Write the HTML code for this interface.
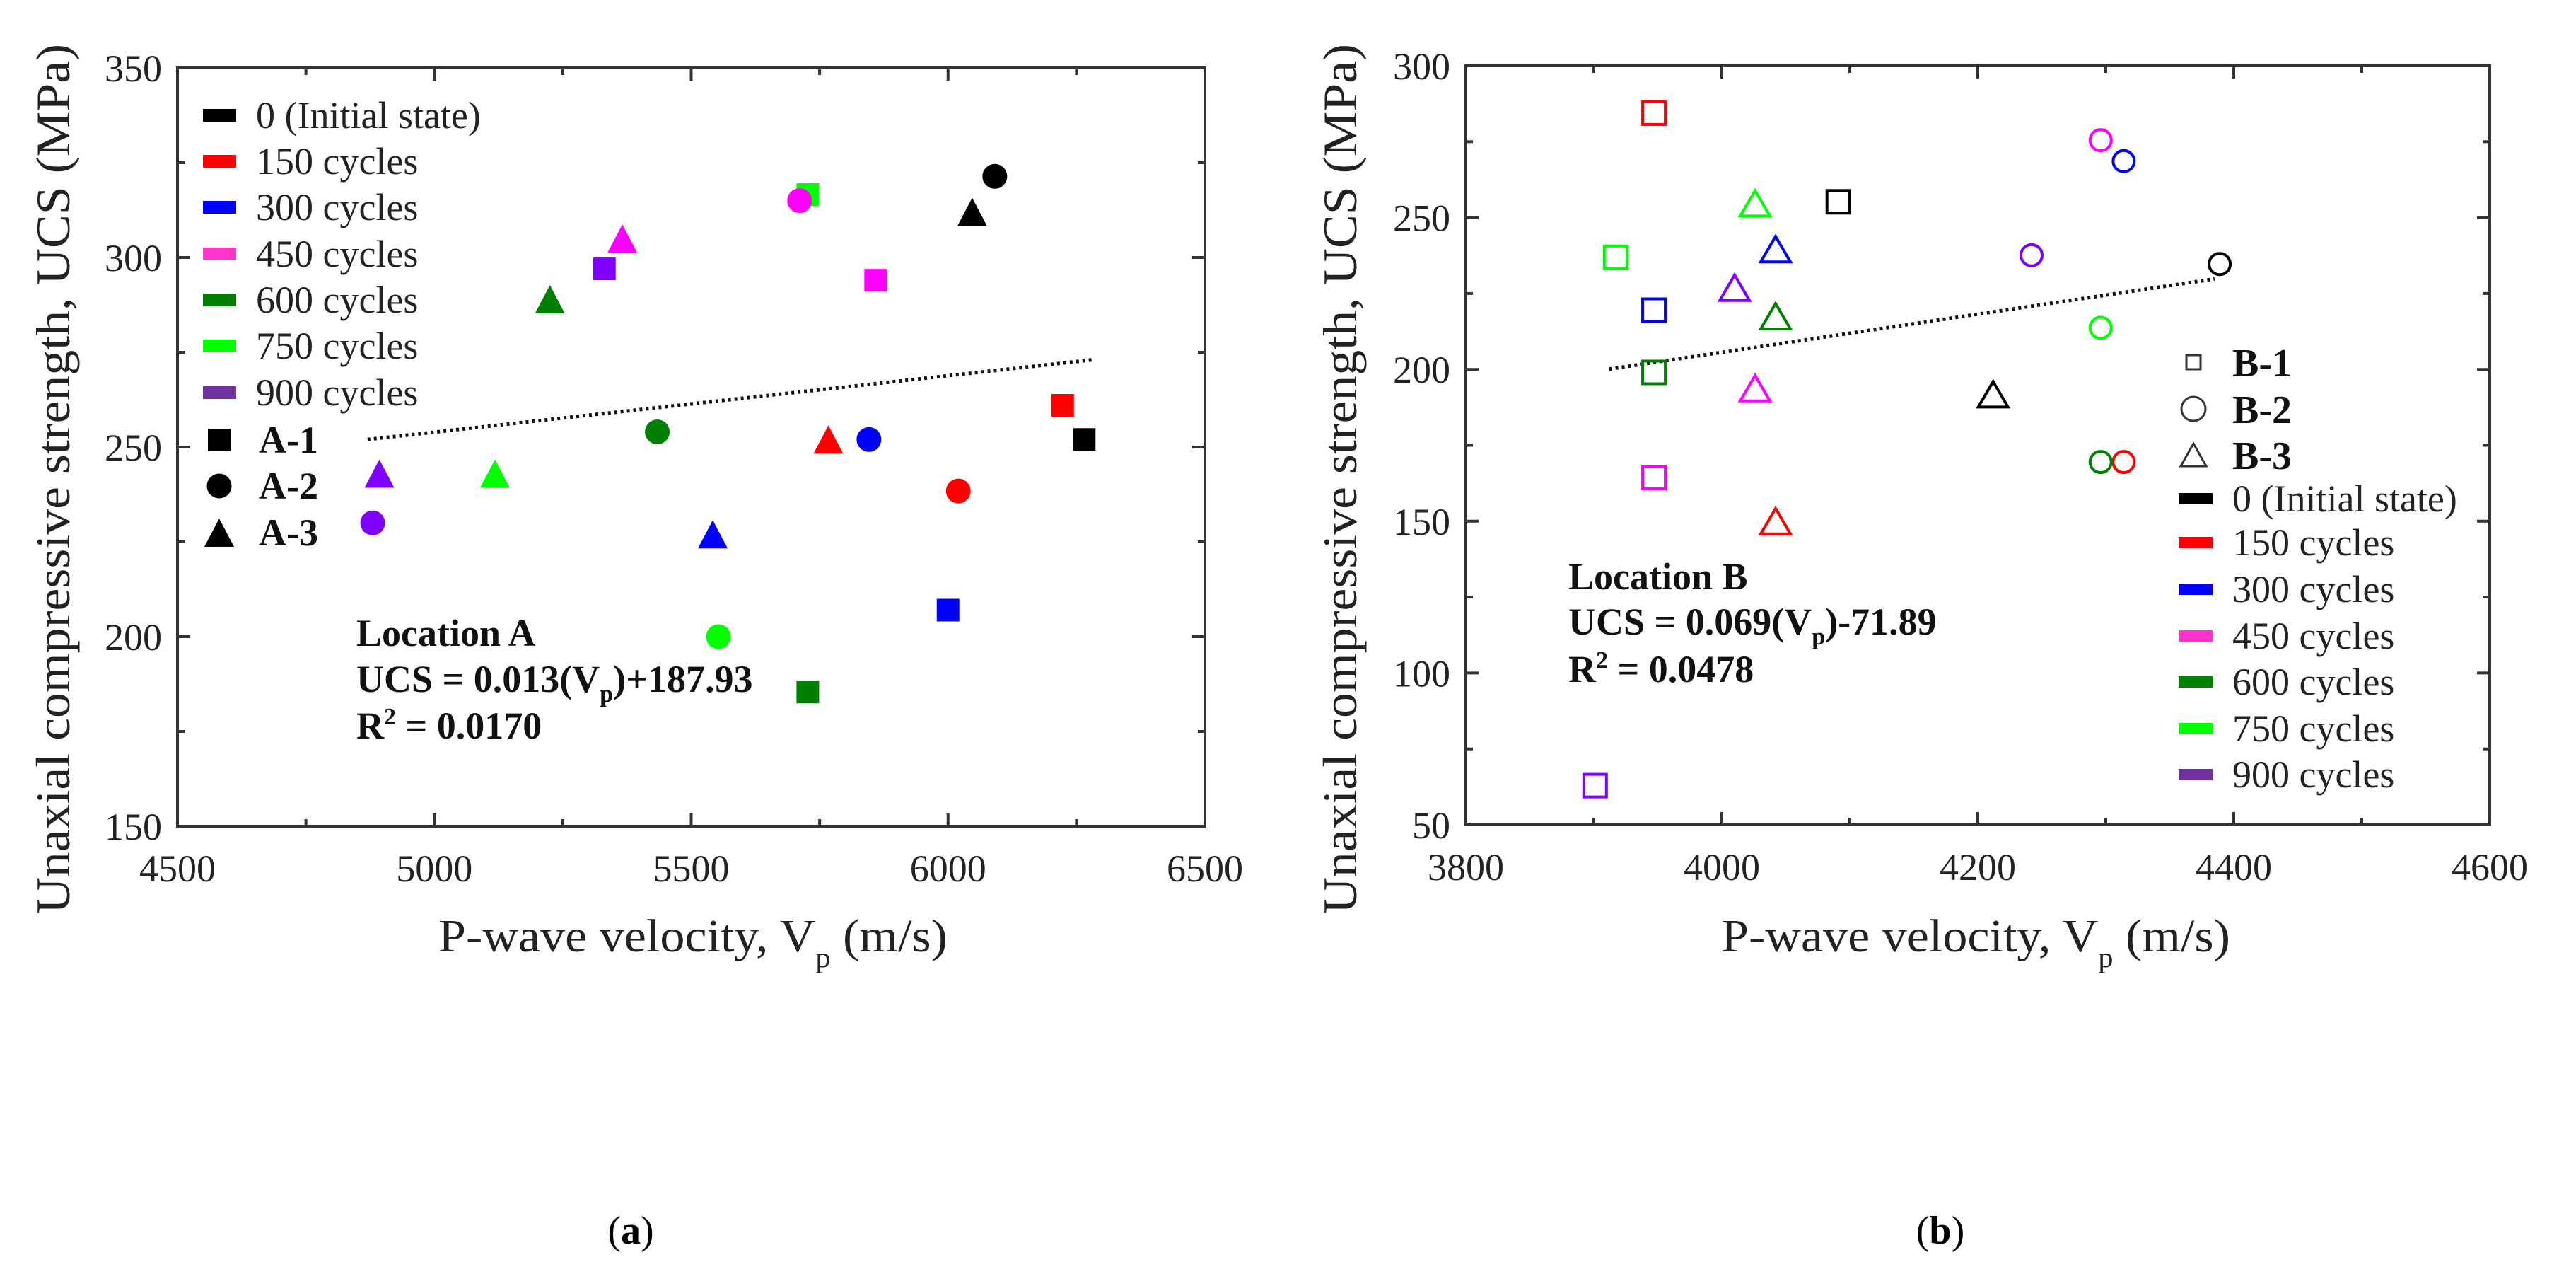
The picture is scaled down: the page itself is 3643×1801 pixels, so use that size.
<!DOCTYPE html>
<html><head><meta charset="utf-8"><style>
html,body{margin:0;padding:0;background:#fff;}
svg{display:block;font-family:"Liberation Serif",serif;}
</style></head><body>
<svg id="fig" width="3643" height="1801" viewBox="0 0 3643 1801" xmlns="http://www.w3.org/2000/svg">
<rect x="0" y="0" width="3643" height="1801" fill="#fff"/>
<g id="chartA"></g>
<g id="chartB"></g>
<text x="892" y="1758" font-size="56" text-anchor="middle">(<tspan font-weight="bold">a</tspan>)</text>
<text x="2744" y="1758" font-size="56" text-anchor="middle">(<tspan font-weight="bold">b</tspan>)</text>
</svg>
<script>
const groupColors = ["#000000","#ff0000","#0000ff","#ff00ff","#008000","#00ff00","#8000ff"];
const groupSwatch = ["#000000","#ff0000","#0000ff","#ff33cc","#008000","#00ff00","#7030a0"];
const groupLabels = ["0 (Initial state)","150 cycles","300 cycles","450 cycles","600 cycles","750 cycles","900 cycles"];
// Location A: [square A-1, circle A-2, triangle A-3] per group
const aVp1 = [6265,6223,6000,5859,5727,5727,5331];
const aUcs1 = [252,261,207,294,185.4,316.6,297];
const aVp2 = [6091,6020,5846,5711,5434,5553,4880];
const aUcs2 = [321.4,238.4,252,315,254,200,230];
const aVp3 = [6047,5767,5542,5366,5225,5118,4893];
const aUcs3 = [312,252,227,305,289,243,243];
const aTrendX = [4870,6280];
const aTrendY = [252,273];
const aXTicks = [4500,5000,5500,6000,6500];
const aYTicks = [150,200,250,300,350];
// Location B
const bVp1 = [4091,3947,3947,3947,3947,3917,3901];
const bUcs1 = [255.2,284.4,219.5,164.4,199,236.9,62.9];
const bVp2 = [4389,4314,4314,4296,4296,4296,4242];
const bUcs2 = [234.7,169.5,268.6,275.5,169.5,213.7,237.6];
const bVp3 = [4212,4042,4042,4026,4042,4026,4010];
const bUcs3 = [191.8,150,239.6,193.8,217.5,254.7,226.9];
const bTrendX = [3912,4385];
const bTrendY = [200.1,229.8];
const bXTicks = [3800,4000,4200,4400,4600];
const bYTicks = [50,100,150,200,250,300];

const NS="http://www.w3.org/2000/svg";
function mk(parent,tag,attrs,text){const e=document.createElementNS(NS,tag);for(const k in attrs)e.setAttribute(k,attrs[k]);if(text!==undefined)e.textContent=text;parent.appendChild(e);return e;}

function marker(g,shape,cx,cy,color,filled){
  let e;
  const f=filled?color:"none", sw=filled?0:4;
  if(shape===0){e=mk(g,"rect",{x:cx-16,y:cy-16,width:32,height:32,fill:f,stroke:color,"stroke-width":sw});}
  else if(shape===1){e=mk(g,"circle",{cx:cx,cy:cy,r:filled?17.5:15,fill:f,stroke:color,"stroke-width":sw});}
  else {const h=filled?20:18;e=mk(g,"polygon",{points:`${cx},${cy-h} ${cx+21},${cy+h} ${cx-21},${cy+h}`,fill:f,stroke:color,"stroke-width":sw});}
  return e;
}

function drawChart(g,cfg){
  const {L,R,T,B,x0,x1,y0,y1,xt,yt}=cfg;
  const sx=v=>L+(v-x0)/(x1-x0)*(R-L);
  const sy=v=>B-(v-y0)/(y1-y0)*(B-T);
  // ticks
  const tg=mk(g,"g",{stroke:"#333","stroke-width":4});
  
  
  for(let i=0;i<xt.length;i++){
    const x=sx(xt[i]);
    mk(tg,"line",{x1:x,y1:B,x2:x,y2:B-18});mk(tg,"line",{x1:x,y1:T,x2:x,y2:T+18});
    if(i<xt.length-1){const xm=sx((xt[i]+xt[i+1])/2);mk(tg,"line",{x1:xm,y1:B,x2:xm,y2:B-10});mk(tg,"line",{x1:xm,y1:T,x2:xm,y2:T+10});}
    const t=mk(g,"text",{x:x,y:B+78,"font-size":54,"text-anchor":"middle",fill:"#222"},String(xt[i]));
    
    
  }
  for(let i=0;i<yt.length;i++){
    const y=sy(yt[i]);
    mk(tg,"line",{x1:L,y1:y,x2:L+18,y2:y});mk(tg,"line",{x1:R,y1:y,x2:R-18,y2:y});
    if(i<yt.length-1){const ym=sy((yt[i]+yt[i+1])/2);mk(tg,"line",{x1:L,y1:ym,x2:L+10,y2:ym});mk(tg,"line",{x1:R,y1:ym,x2:R-10,y2:ym});}
    const t=mk(g,"text",{x:L-22,y:y+19,"font-size":54,"text-anchor":"end",fill:"#222"},String(yt[i]));
    
    
  }
  const fr=mk(g,"rect",{x:L,y:T,width:R-L,height:B-T,fill:"none",stroke:"#333","stroke-width":4});
  
  
  // trend
  const tl=mk(g,"line",{x1:sx(cfg.tx[0]),y1:sy(cfg.ty[0]),x2:sx(cfg.tx[1]),y2:sy(cfg.ty[1]),stroke:"#111","stroke-width":5,"stroke-dasharray":"4 5"});
  
  
  // points
  const sets=[[cfg.v1,cfg.u1],[cfg.v2,cfg.u2],[cfg.v3,cfg.u3]];
  for(let s=0;s<3;s++){
    for(let i=0;i<7;i++){
      const m=marker(g,s,sx(sets[s][0][i]),sy(sets[s][1][i]),groupColors[i],cfg.filled);
      
      
    }
  }
  // axis titles
  const xt1=mk(g,"text",{x:cfg.xtx,y:1345,"font-size":66,"text-anchor":"middle",fill:"#222",textLength:720,lengthAdjust:"spacingAndGlyphs"});
  
  
  xt1.innerHTML='P-wave velocity, V<tspan font-size="40" dy="22">p</tspan><tspan dy="-22"> (m/s)</tspan>';
  const yt1=mk(g,"text",{x:0,y:0,"font-size":68,"text-anchor":"middle",fill:"#222",textLength:1230,lengthAdjust:"spacingAndGlyphs",transform:`translate(${cfg.ytx},677) rotate(-90)`},"Unaxial compressive strength, UCS (MPa)");
  
  
}

const gA=document.getElementById("chartA");
drawChart(gA,{L:251,R:1704,T:96,B:1168,x0:4500,x1:6500,y0:150,y1:350,xt:aXTicks,yt:aYTicks,tx:aTrendX,ty:aTrendY,v1:aVp1,u1:aUcs1,v2:aVp2,u2:aUcs2,v3:aVp3,u3:aUcs3,filled:true,prefix:"a",xtx:980,ytx:98});
const gB=document.getElementById("chartB");
drawChart(gB,{L:2073,R:3521,T:93,B:1166,x0:3800,x1:4600,y0:50,y1:300,xt:bXTicks,yt:bYTicks,tx:bTrendX,ty:bTrendY,v1:bVp1,u1:bUcs1,v2:bVp2,u2:bUcs2,v3:bVp3,u3:bUcs3,filled:false,prefix:"b",xtx:2794,ytx:1918});

// Legend A
const legA=mk(gA,"g",{});


const aRows=[163,228,293,359,424,489,555];
for(let i=0;i<7;i++){
  const r=mk(legA,"rect",{x:287,y:aRows[i]-9,width:47,height:18,fill:groupSwatch[i]});
  
  
  const t=mk(legA,"text",{x:362,y:aRows[i]+18,"font-size":54,fill:"#222"},groupLabels[i]);
  
  
}
const aShapeRows=[622,687,753],aShapeLab=["A-1","A-2","A-3"];
for(let s=0;s<3;s++){
  const m=marker(legA,s,310,aShapeRows[s],"#000",true);
  
  
  const t=mk(legA,"text",{x:366,y:aShapeRows[s]+18,"font-size":54,"font-weight":"bold",fill:"#111"},aShapeLab[s]);
  
  
}
// Legend B
const legB=mk(gB,"g",{});


const bShapeRows=[512,578,643],bShapeLab=["B-1","B-2","B-3"];
for(let s=0;s<3;s++){
  const cy=bShapeRows[s];
  let m;
  if(s===0)m=mk(legB,"rect",{x:3092,y:cy-10,width:20,height:20,fill:"none",stroke:"#333","stroke-width":3});
  else if(s===1)m=mk(legB,"circle",{cx:3102,cy:cy,r:17,fill:"none",stroke:"#333","stroke-width":3});
  else m=mk(legB,"polygon",{points:`3102,${cy-16} 3120,${cy+16} 3084,${cy+16}`,fill:"none",stroke:"#333","stroke-width":3});
  
  
  const t=mk(legB,"text",{x:3157,y:cy+20,"font-size":56,"font-weight":"bold",fill:"#111"},bShapeLab[s]);
  
  
}
const bRows=[705,767,833,899,964,1030,1095];
for(let i=0;i<7;i++){
  const r=mk(legB,"rect",{x:3081,y:bRows[i]-8,width:48,height:16,fill:groupSwatch[i]});
  
  
  const t=mk(legB,"text",{x:3157,y:bRows[i]+18,"font-size":54,fill:"#222"},groupLabels[i]);
  
  
}
// Annotations
function annot(g,x,ys,name,eq){
  const a=mk(g,"g",{"font-size":54,"font-weight":"bold",fill:"#111"});
  
  
  mk(a,"text",{x:x,y:ys[0]+18},"Location "+name);
  const e=mk(a,"text",{x:x,y:ys[1]+18});
  e.innerHTML='UCS = '+eq[0]+'(V<tspan font-size="34" dy="14">p</tspan><tspan dy="-14">)'+eq[1]+'</tspan>';
  const r=mk(a,"text",{x:x,y:ys[2]+18});
  r.innerHTML='R<tspan font-size="34" dy="-20">2</tspan><tspan dy="20"> = '+eq[2]+'</tspan>';
}
annot(gA,504,[895,960,1026],"A",["0.013","+187.93","0.0170"]);
annot(gB,2218,[815,879,946],"B",["0.069","-71.89","0.0478"]);
</script>
</body></html>
